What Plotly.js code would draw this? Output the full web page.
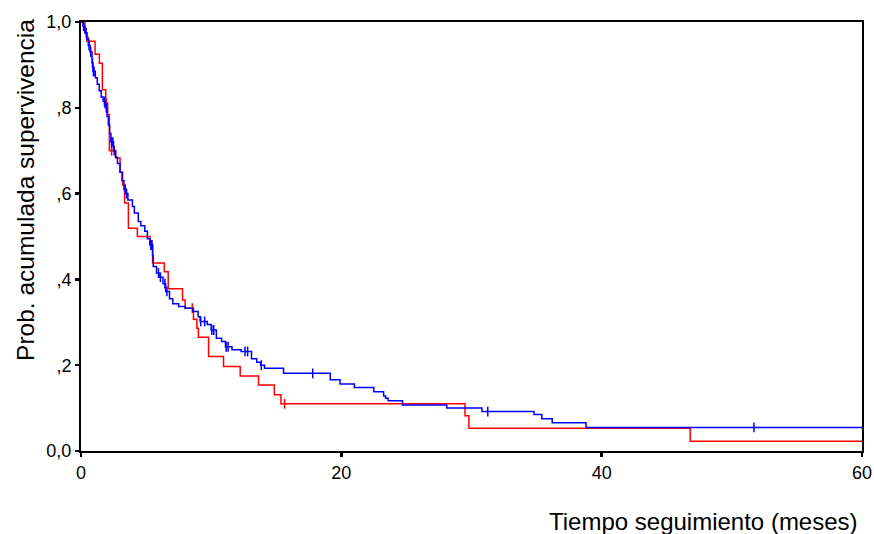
<!DOCTYPE html>
<html>
<head>
<meta charset="utf-8">
<script src="https://cdn.plot.ly/plotly-3.0.1.min.js"></script>
<style>html,body{margin:0;padding:0;background:#fff;}#chart{width:874px;height:534px;}</style>
</head>
<body>
<div id="chart"></div>
<script>
// Group 1 (red) Kaplan-Meier steps
const redTimes = [0, 0.3, 0.45, 1.08, 1.41, 1.64, 1.9, 2.05, 2.18, 2.67, 3.0, 3.2, 3.35, 3.64, 4.33, 5.3, 5.5, 6.4, 6.7, 7.8, 8.0, 8.64, 8.9, 9.02, 9.8, 10.95, 12.23, 13.64, 14.85, 15.36, 29.5, 29.8, 46.8];
const redSurv  = [1.0, 0.975, 0.955, 0.925, 0.904, 0.842, 0.811, 0.784, 0.70, 0.683, 0.65, 0.62, 0.578, 0.519, 0.50, 0.48, 0.438, 0.418, 0.378, 0.352, 0.333, 0.307, 0.286, 0.265, 0.22, 0.197, 0.175, 0.154, 0.131, 0.110, 0.082, 0.053, 0.023];
const redCensored = [0.55, 1.95, 2.35, 5.43, 8.55, 15.64];

// Group 2 (blue) Kaplan-Meier steps
const blueTimes = [0, 0.15, 0.3, 0.45, 0.6, 0.7, 0.85, 0.92, 1.1, 1.25, 1.4, 1.55, 1.7, 1.85, 2.0, 2.1, 2.2, 2.3, 2.5, 2.65, 2.8, 3.0, 3.15, 3.3, 3.45, 3.6, 3.95, 4.1, 4.4, 4.6, 4.9, 5.1, 5.3, 5.5, 5.55, 5.8, 6.0, 6.3, 6.5, 6.8, 7.05, 7.5, 8.0, 8.6, 9.0, 9.15, 9.7, 10.0, 10.4, 10.8, 11.1, 11.6, 12.3, 13.1, 13.5, 13.8, 14.1, 15.56, 19.15, 19.9, 21.0, 22.5, 23.25, 23.4, 23.6, 24.7, 28.1, 30.8, 34.8, 35.4, 36.2, 38.8];
const blueSurv  = [1.0, 0.99, 0.975, 0.96, 0.945, 0.93, 0.905, 0.885, 0.87, 0.855, 0.84, 0.825, 0.815, 0.80, 0.78, 0.76, 0.74, 0.72, 0.70, 0.685, 0.67, 0.65, 0.63, 0.61, 0.60, 0.585, 0.57, 0.555, 0.535, 0.525, 0.512, 0.495, 0.48, 0.455, 0.43, 0.415, 0.405, 0.39, 0.372, 0.355, 0.343, 0.337, 0.333, 0.325, 0.313, 0.302, 0.295, 0.282, 0.263, 0.255, 0.243, 0.236, 0.232, 0.215, 0.207, 0.20, 0.193, 0.181, 0.166, 0.156, 0.148, 0.138, 0.128, 0.123, 0.117, 0.107, 0.10, 0.092, 0.085, 0.075, 0.066, 0.055];
const blueCensored = [0.2, 0.4, 0.62, 0.75, 0.88, 0.95, 1.0, 1.8, 1.95, 2.35, 2.45, 2.55, 3.4, 3.5, 5.36, 5.45, 5.95, 6.1, 6.45, 6.6, 9.2, 9.5, 10.05, 10.2, 11.15, 11.3, 12.6, 12.8, 13.85, 17.8, 31.25, 51.7];

const xMax = 60;
const xTickVals = [0, 20, 40, 60];
const yTickVals = [0, 0.2, 0.4, 0.6, 0.8, 1.0];
const yTickText = ['0,0', ',2', ',4', ',6', ',8', '1,0'];

function survAt(times, surv, t) {
  let s = surv[0];
  for (let i = 0; i < times.length; i++) { if (times[i] <= t) s = surv[i]; }
  return s;
}
function stepTrace(times, surv, color) {
  return {x: times.concat([xMax]), y: surv.concat([surv[surv.length - 1]]),
    type: 'scatter', mode: 'lines', line: {shape: 'hv', color: color, width: 1.5},
    hoverinfo: 'skip', showlegend: false};
}
function censorTrace(times, surv, cens, color) {
  return {x: cens, y: cens.map(t => survAt(times, surv, t)),
    type: 'scatter', mode: 'markers',
    marker: {symbol: 'line-ns-open', size: 7, color: color, line: {color: color, width: 1.5}},
    hoverinfo: 'skip', showlegend: false};
}

const data = [
  stepTrace(redTimes, redSurv, '#ff0000'),
  censorTrace(redTimes, redSurv, redCensored, '#ff0000'),
  stepTrace(blueTimes, blueSurv, '#0000ff'),
  censorTrace(blueTimes, blueSurv, blueCensored, '#0000ff')
];

const font = 'Liberation Sans, Arial, sans-serif';
const layout = {
  width: 874, height: 534,
  margin: {l: 81, r: 12, t: 22, b: 83},
  paper_bgcolor: '#ffffff', plot_bgcolor: '#ffffff',
  font: {family: font, color: '#000000', size: 18},
  xaxis: {range: [0, xMax], tickvals: xTickVals, ticks: 'outside', ticklen: 4, tickwidth: 2.5, tickcolor: '#000',
    showline: true, linewidth: 2, linecolor: '#000', mirror: true, showgrid: false, zeroline: false,
    tickfont: {family: font, size: 18, color: '#000'}},
  yaxis: {range: [0, 1], tickvals: yTickVals, ticktext: yTickText, ticks: 'outside', ticklen: 4, tickwidth: 2.5, tickcolor: '#000',
    showline: true, linewidth: 2, linecolor: '#000', mirror: true, showgrid: false, zeroline: false,
    tickfont: {family: font, size: 18, color: '#000'}},
  annotations: [
    {text: 'Prob. acumulada supervivencia', xref: 'paper', yref: 'paper', x: -0.072, y: 0.608,
      xanchor: 'center', yanchor: 'middle', textangle: -90, showarrow: false,
      font: {family: font, size: 24.5, color: '#000'}},
    {text: 'Tiempo seguimiento (meses)', xref: 'paper', yref: 'paper', x: 0.997, y: -0.1655,
      xanchor: 'right', yanchor: 'middle', showarrow: false,
      font: {family: font, size: 24, color: '#000'}}
  ]
};

Plotly.newPlot('chart', data, layout, {displayModeBar: false, staticPlot: true});
</script>
</body>
</html>
